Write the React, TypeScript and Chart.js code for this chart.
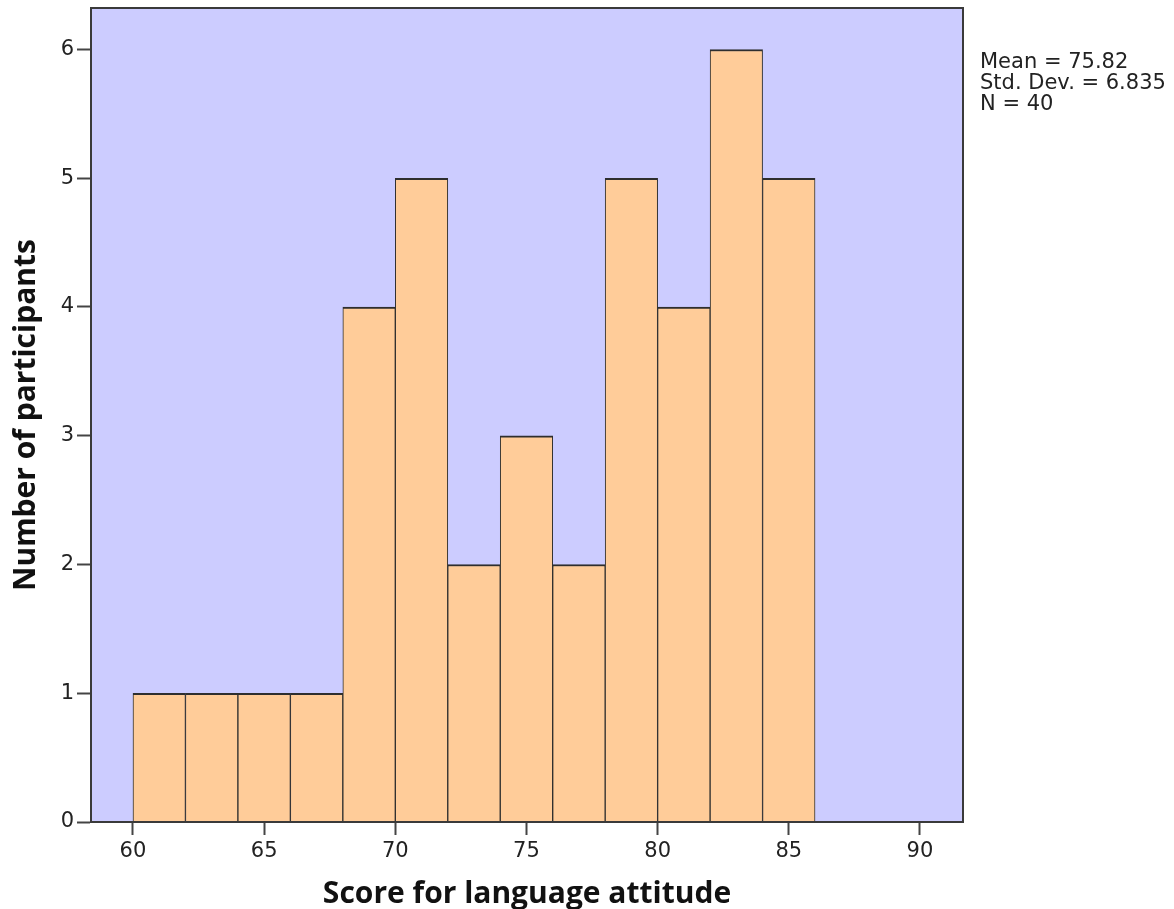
import React, { useEffect, useRef } from "react";
import { Chart, registerables } from "chart.js";

Chart.register(...registerables);

// ---- data ----
const binStarts = [60, 62, 64, 66, 68, 70, 72, 74, 76, 78, 80, 82, 84];
const binWidth = 2;
const counts = [1, 1, 1, 1, 4, 5, 2, 3, 2, 5, 4, 6, 5];
const xTicks = [60, 65, 70, 75, 80, 85, 90];
const yTicks = [0, 1, 2, 3, 4, 5, 6];
const statsLines = ["Mean = 75.82", "Std. Dev. = 6.835", "N = 40"];
const xTitle = "Score for language attitude";
const yTitle = "Number of participants";

const W = 1174;
const H = 909;

export default function App() {
  const ref = useRef<HTMLCanvasElement | null>(null);

  useEffect(() => {
    const canvas = ref.current;
    if (!canvas) return;

    const bgPlugin = {
      id: "plotBg",
      beforeDraw(chart: any) {
        const { ctx, chartArea } = chart;
        ctx.save();
        ctx.fillStyle = "#CCCCFF";
        ctx.fillRect(
          chartArea.left,
          chartArea.top,
          chartArea.right - chartArea.left,
          chartArea.bottom - chartArea.top
        );
        ctx.restore();
      },
      afterDraw(chart: any) {
        const { ctx, chartArea } = chart;
        ctx.save();
        ctx.strokeStyle = "#3a3a3a";
        ctx.lineWidth = 2;
        ctx.strokeRect(
          chartArea.left,
          chartArea.top,
          chartArea.right - chartArea.left,
          chartArea.bottom - chartArea.top
        );
        ctx.fillStyle = "#222";
        ctx.font = '21px "DejaVu Sans"';
        ctx.textAlign = "left";
        ctx.textBaseline = "alphabetic";
        statsLines.forEach((t, i) => {
          ctx.fillText(t, chartArea.right + 17, 68 + i * 21);
        });
        ctx.restore();
      },
    };

    const chart = new Chart(canvas, {
      type: "bar",
      data: {
        datasets: [
          {
            data: binStarts.map((s, i) => ({ x: s + binWidth / 2, y: counts[i] })),
            backgroundColor: "#FFCC99",
            borderColor: "#2e2e2e",
            borderWidth: { top: 2, left: 1, right: 1, bottom: 0 },
            borderSkipped: false,
            barPercentage: 1,
            categoryPercentage: 1,
          },
        ],
      },
      options: {
        responsive: false,
        animation: false,
        events: [],
        layout: { padding: { top: 8, right: 211, left: 0, bottom: 0 } },
        plugins: {
          legend: { display: false },
          tooltip: { enabled: false },
          title: { display: false },
        },
        scales: {
          x: {
            type: "linear",
            offset: false,
            min: 58.4,
            max: 91.64,
            afterBuildTicks: (s: any) => {
              s.ticks = xTicks.map((v) => ({ value: v }));
            },
            afterFit: (s: any) => {
              s.height = 87;
              s.paddingLeft = 0;
              s.paddingRight = 0;
            },
            grid: {
              display: true,
              offset: false,
              drawOnChartArea: false,
              drawTicks: true,
              tickLength: 13,
              tickWidth: 2,
              tickColor: "#444",
            },
            border: { display: true, color: "#3a3a3a", width: 2 },
            ticks: {
              padding: 4,
              maxRotation: 0,
              autoSkip: false,
              color: "#222",
              font: { family: '"DejaVu Sans"', size: 21 },
            },
            title: {
              display: true,
              text: xTitle,
              color: "#111",
              font: { family: '"Open Sans"', size: 30, weight: "bold", lineHeight: 1 },
              padding: { top: 0, bottom: 0 },
            },
          },
          y: {
            type: "linear",
            min: 0,
            max: 6.322,
            afterBuildTicks: (s: any) => {
              s.ticks = yTicks.map((v) => ({ value: v }));
            },
            afterFit: (s: any) => {
              s.width = 91;
              s.paddingTop = 0;
              s.paddingBottom = 0;
            },
            grid: {
              display: true,
              offset: false,
              drawOnChartArea: false,
              drawTicks: true,
              tickLength: 14,
              tickWidth: 2,
              tickColor: "#444",
            },
            border: { display: true, color: "#3a3a3a", width: 2 },
            ticks: {
              padding: 3,
              color: "#222",
              font: { family: '"DejaVu Sans"', size: 21 },
            },
            title: {
              display: true,
              text: yTitle,
              color: "#111",
              font: { family: '"Open Sans"', size: 30, weight: "bold", lineHeight: 1 },
              padding: { top: 11, bottom: 0 },
            },
          },
        },
      },
      plugins: [bgPlugin],
    } as any);

    return () => {
      chart.destroy();
    };
  }, []);

  return (
    <div style={{ position: "absolute", left: 0, top: 0, width: W, height: H, background: "#fff" }}>
      <canvas ref={ref} width={W} height={H} style={{ width: W, height: H, display: "block" }} />
    </div>
  );
}
